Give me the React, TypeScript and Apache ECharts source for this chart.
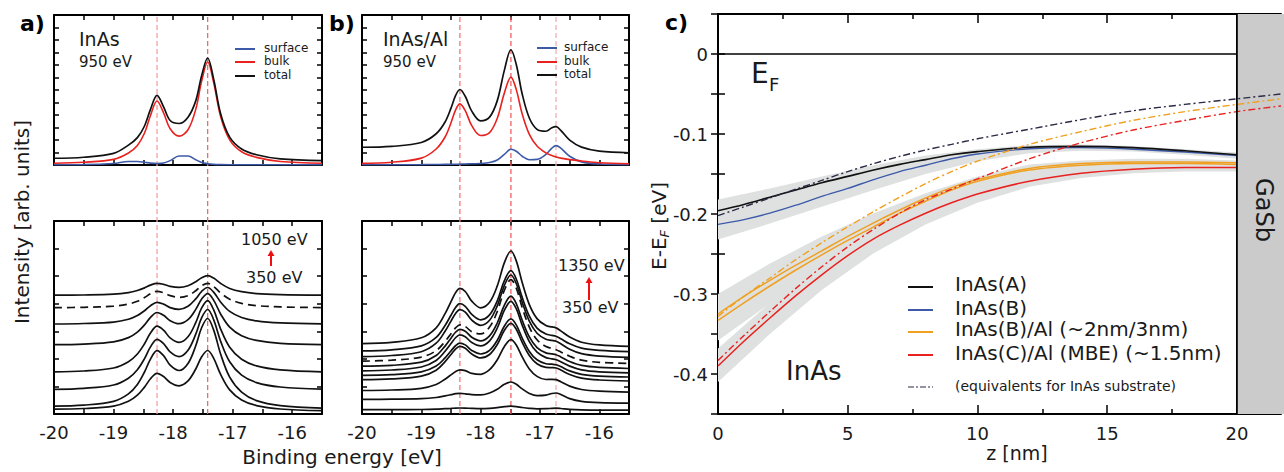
import React, { useEffect, useRef } from 'react';
import * as echarts from 'echarts';

const FONT = "'DejaVu Sans', Verdana, sans-serif";

// ---------------- panel a (InAs) ----------------
const energyGridA = [-20, -19.5, -19, -18.75, -18.6, -18.48, -18.38, -18.27, -18.16, -18.05, -17.9, -17.75, -17.62, -17.52, -17.42, -17.32, -17.2, -17.05, -16.85, -16.6, -16.2, -15.5];
const aTopSurface = [0.02, 0.03, 0.12, 0.28, 0.28, 0.22, 0.15, 0.12, 0.16, 0.35, 0.72, 0.72, 0.42, 0.2, 0.1, 0.05, 0.03, 0.02, 0.02, 0.02, 0.02, 0.02];
const aTopBulk = [0.14, 0.22, 0.45, 0.96, 1.56, 2.56, 3.96, 5.12, 4.17, 2.9, 2.31, 2.82, 4.45, 6.73, 8.24, 6.62, 3.83, 2.01, 1.06, 0.61, 0.28, 0.14];
const aTopTotal = [0.54, 0.62, 0.93, 1.59, 2.19, 3.12, 4.45, 5.57, 4.65, 3.56, 3.32, 3.82, 5.13, 7.17, 8.56, 6.88, 4.06, 2.23, 1.28, 0.82, 0.49, 0.35];

// photon-energy series (top = 1050 eV ... bottom = 350 eV)
const aStack1 = [118.8, 119.0, 119.8, 121.4, 123.5, 126.1, 128.9, 130.7, 129.7, 127.7, 126.7, 128.3, 132.3, 136.3, 138.4, 135.9, 130.5, 125.5, 122.3, 120.4, 119.4, 118.8];
const aStack2 = [106.4, 106.7, 107.8, 110.0, 112.7, 116.4, 120.2, 122.7, 121.2, 118.4, 116.7, 118.4, 123.2, 128.2, 130.6, 127.5, 120.9, 114.8, 110.7, 108.4, 107.1, 106.4];
const aStack3 = [90.0, 90.5, 91.9, 94.8, 98.5, 103.3, 108.3, 111.7, 109.9, 106.4, 104.6, 107.7, 115.1, 122.7, 126.5, 121.9, 111.8, 102.6, 96.5, 93.1, 91.1, 90.1];
const aStack4 = [69.3, 69.9, 72.1, 76.4, 81.9, 89.1, 96.6, 101.5, 98.7, 93.3, 90.3, 94.3, 104.6, 115.1, 120.4, 113.9, 99.8, 86.9, 78.3, 73.6, 70.7, 69.4];
const aStack5 = [42.1, 43.0, 46.0, 52.2, 60.0, 70.2, 80.9, 87.9, 83.8, 76.1, 71.6, 77.2, 91.4, 106.1, 113.4, 104.3, 84.7, 66.7, 54.7, 48.1, 44.1, 42.2];
const aStack6 = [24.7, 25.7, 29.0, 35.8, 44.3, 55.4, 67.1, 74.7, 70.4, 62.1, 57.4, 63.8, 79.8, 96.3, 104.5, 94.4, 72.4, 52.2, 38.8, 31.4, 27.0, 24.9];
const aStack7 = [7.9, 8.9, 12.6, 20.1, 29.5, 42.0, 54.9, 63.4, 58.4, 48.9, 43.5, 50.5, 68.2, 86.5, 95.5, 84.1, 59.5, 36.9, 21.9, 13.4, 8.4, 5.9];
const aStack8 = [4.9, 5.5, 7.9, 12.7, 18.8, 26.9, 35.2, 40.7, 37.5, 31.6, 28.2, 33.1, 45.0, 57.3, 63.5, 55.8, 39.3, 24.1, 14.0, 8.4, 5.0, 3.3];
const aStacks = [aStack1, aStack2, aStack3, aStack4, aStack5, aStack6, aStack7, aStack8];
const aStackDashed = 1;
const aPeakPositions = [-18.27, -17.42];

// ---------------- panel b (InAs/Al) ----------------
const energyGridB = [-20, -19.5, -19, -18.75, -18.6, -18.5, -18.42, -18.35, -18.26, -18.15, -18.0, -17.85, -17.72, -17.6, -17.49, -17.4, -17.3, -17.18, -17.05, -16.9, -16.8, -16.73, -16.65, -16.5, -16.3, -16.0, -15.5];
const bTopSurface = [0.02, 0.02, 0.03, 0.04, 0.05, 0.05, 0.06, 0.07, 0.08, 0.1, 0.12, 0.2, 0.4, 0.85, 1.26, 1.1, 0.7, 0.42, 0.45, 0.85, 1.35, 1.55, 1.35, 0.7, 0.25, 0.08, 0.03];
const bTopBulk = [0.13, 0.22, 0.55, 1.28, 2.24, 3.38, 4.43, 4.89, 4.35, 3.15, 2.36, 2.59, 3.74, 5.77, 7.03, 6.03, 4.08, 2.45, 1.52, 0.97, 0.76, 0.65, 0.55, 0.43, 0.32, 0.18, 0.1];
const bTopTotal = [1.42, 1.49, 1.8, 2.5, 3.44, 4.55, 5.59, 6.04, 5.5, 4.31, 3.53, 3.83, 5.15, 7.59, 9.22, 8.04, 5.68, 3.76, 2.85, 2.7, 2.98, 3.07, 2.77, 1.99, 1.43, 1.11, 0.98];

const bStack1 = [70.3, 71.6, 76.2, 86.2, 100.3, 112.3, 121.6, 125.7, 122.5, 112.8, 106.2, 111.7, 128.1, 151.4, 163.0, 153.1, 131.4, 109.4, 95.4, 88.4, 87.1, 86.1, 83.1, 77.0, 71.8, 69.1, 67.6];
const bStack2 = [63.1, 64.2, 68.1, 76.6, 88.5, 98.8, 106.8, 110.3, 107.7, 99.6, 94.2, 99.1, 113.2, 133.4, 143.4, 135.0, 116.6, 97.9, 85.9, 79.9, 78.7, 77.8, 75.3, 70.2, 65.9, 63.6, 62.4];
const bStack3 = [57.4, 58.5, 62.3, 70.8, 82.7, 92.9, 100.8, 104.3, 101.8, 93.9, 88.7, 93.8, 108.2, 128.7, 139.0, 130.5, 111.8, 92.8, 80.7, 74.7, 73.6, 72.7, 70.2, 64.8, 60.3, 57.9, 56.7];
const bStack4 = [52.9, 53.8, 56.9, 63.4, 72.6, 80.3, 86.3, 89.1, 87.5, 82.3, 80.1, 86.9, 102.5, 123.8, 134.4, 125.7, 106.4, 86.9, 74.2, 67.4, 65.6, 64.3, 62.1, 57.8, 53.8, 51.7, 50.6];
const bStack5 = [47.9, 48.7, 51.8, 58.5, 67.9, 75.8, 82.0, 84.7, 82.8, 76.7, 73.1, 78.1, 91.0, 108.9, 117.8, 110.3, 93.7, 77.1, 66.4, 61.1, 60.1, 59.3, 57.1, 52.5, 48.6, 46.6, 45.5];
const bStack6 = [43.1, 44.0, 47.0, 53.5, 62.7, 70.4, 76.5, 79.2, 77.3, 71.5, 68.1, 73.2, 86.0, 103.8, 112.7, 105.3, 88.9, 72.4, 61.8, 56.4, 55.2, 54.4, 52.3, 47.9, 44.2, 42.2, 41.2];
const bStack7 = [38.7, 39.4, 42.1, 47.9, 56.1, 63.1, 68.5, 70.9, 69.1, 63.6, 60.0, 63.6, 73.7, 88.0, 95.1, 89.1, 75.9, 62.6, 54.2, 50.3, 49.8, 49.3, 47.4, 43.1, 39.7, 37.9, 37.0];
const bStack8 = [34.3, 35.1, 37.8, 43.8, 52.3, 59.5, 65.2, 67.6, 65.7, 60.0, 56.1, 59.5, 69.5, 83.7, 90.7, 84.8, 71.7, 58.6, 50.3, 46.6, 46.4, 46.0, 44.0, 39.5, 35.8, 34.0, 33.0];
const bStack9 = [23.5, 24.0, 25.7, 29.5, 34.8, 39.1, 42.6, 44.2, 43.4, 40.6, 39.7, 44.3, 54.2, 67.6, 74.3, 69.0, 57.1, 45.1, 37.6, 34.5, 34.6, 34.3, 32.3, 27.9, 24.5, 22.8, 21.9];
const bStack10 = [14.6, 14.8, 15.3, 16.5, 18.1, 19.3, 20.3, 20.6, 20.2, 19.3, 19.1, 21.0, 24.7, 29.7, 32.0, 29.8, 25.1, 20.6, 18.3, 18.8, 20.5, 21.0, 19.5, 15.4, 12.7, 11.4, 10.8];
const bStack11 = [4.4, 4.4, 4.5, 4.8, 5.3, 5.6, 5.9, 6.0, 5.9, 5.6, 5.4, 5.7, 6.4, 7.3, 7.8, 7.4, 6.5, 5.7, 5.2, 5.3, 5.7, 5.8, 5.5, 4.7, 4.2, 3.9, 3.8];
const bStacks = [bStack1, bStack2, bStack3, bStack4, bStack5, bStack6, bStack7, bStack8, bStack9, bStack10, bStack11];
const bStackDashed = 3;
const bPeakPositions = [-18.35, -17.49, -16.73];

const energyTickLabels = [-20, -19, -18, -17, -16];

// ---------------- panel c (band bending) ----------------
const zSolid = [0, 1, 2, 3, 4, 5, 6, 7, 8, 9, 10, 12, 14, 16, 18, 20];
const inAsA = [-0.196, -0.188, -0.179, -0.17, -0.161, -0.153, -0.145, -0.138, -0.132, -0.126, -0.122, -0.1165, -0.1155, -0.117, -0.121, -0.126];
const inAsB = [-0.213, -0.207, -0.199, -0.189, -0.178, -0.168, -0.157, -0.147, -0.139, -0.131, -0.125, -0.1185, -0.117, -0.119, -0.1225, -0.127];
const inAsBAl2 = [-0.325, -0.303, -0.283, -0.264, -0.246, -0.228, -0.211, -0.195, -0.18, -0.167, -0.157, -0.143, -0.137, -0.135, -0.135, -0.136];
const inAsBAl3 = [-0.333, -0.311, -0.29, -0.27, -0.251, -0.233, -0.216, -0.199, -0.184, -0.17, -0.159, -0.145, -0.139, -0.137, -0.137, -0.138];
const inAsCAl = [-0.39, -0.359, -0.33, -0.302, -0.276, -0.252, -0.231, -0.214, -0.199, -0.186, -0.175, -0.159, -0.149, -0.144, -0.142, -0.142];

const zSubstrate = [0, 1, 2, 3, 4, 5, 6, 7, 8, 9, 10, 12, 14, 16, 18, 20, 21.7];
const subA = [-0.202, -0.191, -0.18, -0.169, -0.158, -0.147, -0.137, -0.128, -0.12, -0.113, -0.106, -0.094, -0.082, -0.071, -0.063, -0.056, -0.05];
const subBAl = [-0.328, -0.303, -0.28, -0.257, -0.236, -0.216, -0.197, -0.179, -0.162, -0.147, -0.134, -0.113, -0.097, -0.083, -0.072, -0.063, -0.056];
const subCAl = [-0.383, -0.352, -0.322, -0.293, -0.266, -0.241, -0.219, -0.199, -0.182, -0.169, -0.156, -0.131, -0.111, -0.095, -0.083, -0.072, -0.065];

const zBand = [0, 2, 4, 6, 8, 10, 12, 14, 16, 18, 20];
const bandABLow = [-0.232, -0.212, -0.191, -0.17, -0.15, -0.134, -0.124, -0.121, -0.122, -0.126, -0.131];
const bandABHigh = [-0.182, -0.168, -0.153, -0.139, -0.127, -0.119, -0.114, -0.113, -0.115, -0.119, -0.123];
const bandAlLow = [-0.358, -0.312, -0.272, -0.234, -0.201, -0.176, -0.155, -0.144, -0.14, -0.139, -0.14];
const bandAlHigh = [-0.3, -0.262, -0.228, -0.199, -0.174, -0.153, -0.138, -0.133, -0.131, -0.131, -0.133];
const bandCLow = [-0.41, -0.35, -0.295, -0.249, -0.213, -0.186, -0.166, -0.155, -0.149, -0.147, -0.147];
const bandCHigh = [-0.368, -0.311, -0.258, -0.215, -0.186, -0.165, -0.152, -0.143, -0.139, -0.137, -0.137];

const zTickLabels = [0, 5, 10, 15, 20];
const eTickLabels = [0, -0.1, -0.2, -0.3, -0.4];
const interfaceZ = 20;
const fermiLevel = 0;
const zMax = 21.7;
const eMin = -0.45;
const eMax = 0.05;

// ---------------- colours ----------------
const BLACK = '#111111';
const RED = '#e8221f';
const BLUE = '#3d5aa9';
const ORANGE = '#f0a020';
const NAVY = '#2b2b45';
const BAND = '#dfe1e1';

const axisLine = { show: true, onZero: false, lineStyle: { color: '#000', width: 2 } };
const tickStyle = { color: '#000', width: 1.5 };

function energyAxis(gridIndex: number, position: string, labels: boolean) {
  return {
    type: 'value', gridIndex, position, min: -20, max: -15.5, interval: 0.5,
    axisLine,
    axisTick: { show: true, inside: true, length: 5, lineStyle: tickStyle },
    axisLabel: {
      show: labels, margin: 9, fontSize: 18, color: '#1a1a1a', fontFamily: FONT,
      formatter: (v: number) => (energyTickLabels.some((t) => Math.abs(t - v) < 1e-6) ? String(v) : ''),
    },
    splitLine: { show: false },
  };
}
function intensityAxis(gridIndex: number, position: string, max: number, interval: number) {
  return {
    type: 'value', gridIndex, position, min: 0, max, interval,
    axisLine,
    axisTick: { show: true, inside: true, length: 5, lineStyle: tickStyle },
    axisLabel: { show: false },
    splitLine: { show: false },
  };
}
function zAxis(position: string, labels: boolean) {
  return {
    type: 'value', gridIndex: 4, position, min: 0, max: zMax, interval: 5,
    axisLine,
    axisTick: { show: true, inside: true, length: 9, lineStyle: tickStyle },
    minorTick: { show: true, splitNumber: 2, length: 5, lineStyle: tickStyle },
    axisLabel: {
      show: labels, margin: 10, fontSize: 18, color: '#1a1a1a', fontFamily: FONT,
      formatter: (v: number) => (zTickLabels.some((t) => Math.abs(t - v) < 1e-6) ? String(v) : ''),
    },
    splitLine: { show: false },
    minorSplitLine: { show: false },
  };
}
function energyCAxis(position: string, labels: boolean) {
  return {
    type: 'value', gridIndex: 4, position, min: eMin, max: eMax, interval: 0.05,
    axisLine: labels ? axisLine : { show: false },
    axisTick: { show: true, inside: true, length: 7, lineStyle: tickStyle },
    axisLabel: {
      show: labels, margin: 10, fontSize: 18, color: '#1a1a1a', fontFamily: FONT,
      formatter: (v: number) => {
        const t = eTickLabels.find((e) => Math.abs(e - v) < 1e-6);
        if (t === undefined) return '';
        return t === 0 ? '0' : t.toFixed(1);
      },
    },
    splitLine: { show: false },
  };
}

function line(xi: number, xs: number[], ys: number[], color: string, width: number, dash: any = 'solid', z = 3, smooth: any = 0.35) {
  return {
    type: 'line', xAxisIndex: xi, yAxisIndex: xi,
    data: xs.map((x, i) => [x, ys[i]]),
    symbol: 'none', smooth, silent: true, z,
    lineStyle: { color, width, type: dash },
    emphasis: { disabled: true },
  };
}

function vline(xi: number, x: number, color: string) {
  return {
    type: 'line', xAxisIndex: xi, yAxisIndex: xi,
    data: [[x, 0], [x, 1]], symbol: 'none', silent: true, z: 1,
    lineStyle: { color, width: 1.3, type: [5, 3] },
    emphasis: { disabled: true },
  };
}

function txt(text: string, x: number, y: number, size: number, o: any = {}) {
  const align = o.align ?? 'left';
  return {
    type: 'text', x, y, rotation: o.rotation ?? 0, silent: true, z: 100,
    style: {
      text, fill: o.color ?? '#1a1a1a', fontSize: size, fontFamily: FONT,
      fontWeight: o.weight ?? 'normal', fontStyle: o.style ?? 'normal',
      textAlign: align, align, textVerticalAlign: 'middle', verticalAlign: 'middle',
      rich: o.rich,
    },
  };
}
function gline(x1: number, y1: number, x2: number, y2: number, stroke: string, lineWidth: number, lineDash?: number[]) {
  return { type: 'line', silent: true, z: 100, shape: { x1, y1, x2, y2 }, style: { stroke, lineWidth, lineDash } };
}
function arrow(x: number, yBottom: number, yTip: number) {
  return [
    gline(x, yBottom, x, yTip + 5, '#ee1111', 2),
    { type: 'polygon', silent: true, z: 100, shape: { points: [[x - 3.5, yTip + 6], [x + 3.5, yTip + 6], [x, yTip]] }, style: { fill: '#ee1111' } },
  ];
}

function buildOption() {
  const series: any[] = [];
  const aMarkColors = ['#f4a0a0', '#f06a6a'];
  const bMarkColors = ['#f07a7a', '#f06060', '#f5b0b0'];
  aPeakPositions.forEach((p, i) => series.push(vline(10, p, aMarkColors[i])));
  bPeakPositions.forEach((p, i) => series.push(vline(11, p, bMarkColors[i])));

  series.push(line(0, energyGridA, aTopSurface, BLUE, 1.6));
  series.push(line(0, energyGridA, aTopBulk, RED, 1.6));
  series.push(line(0, energyGridA, aTopTotal, BLACK, 1.7));
  aStacks.forEach((s, i) => series.push(line(2, energyGridA, s, BLACK, 1.7, i === aStackDashed ? [8, 5] : 'solid')));
  series.push(line(4, energyGridB, bTopSurface, BLUE, 1.6));
  series.push(line(4, energyGridB, bTopBulk, RED, 1.6));
  series.push(line(4, energyGridB, bTopTotal, BLACK, 1.7));
  bStacks.forEach((s, i) => series.push(line(6, energyGridB, s, BLACK, 1.7, i === bStackDashed ? [8, 5] : 'solid')));

  series.push({
    type: 'custom', xAxisIndex: 8, yAxisIndex: 8, silent: true, z: 1,
    data: [[interfaceZ, fermiLevel]],
    renderItem: (_p: any, api: any) => {
      const p0 = api.coord([interfaceZ, eMax]);
      const p1 = api.coord([zMax, eMin]);
      return { type: 'rect', shape: { x: p0[0], y: p0[1], width: p1[0] - p0[0] + 4, height: p1[1] - p0[1] }, style: { fill: '#cbcbcb' } };
    },
  });
  const bands = [
    [bandABLow, bandABHigh],
    [bandAlLow, bandAlHigh],
    [bandCLow, bandCHigh],
  ];
  series.push({
    type: 'custom', xAxisIndex: 8, yAxisIndex: 8, silent: true, z: 2,
    data: [[0, 0]],
    renderItem: (_p: any, api: any) => ({
      type: 'group',
      children: bands.map(([lo, hi]) => {
        const pts: number[][] = [];
        zBand.forEach((z, i) => pts.push(api.coord([z, hi[i]])));
        for (let i = zBand.length - 1; i >= 0; i--) pts.push(api.coord([zBand[i], lo[i]]));
        return { type: 'polygon', shape: { points: pts }, style: { fill: BAND } };
      }),
    }),
  });
  series.push(line(8, [0, interfaceZ], [fermiLevel, fermiLevel], '#000', 1.6, 'solid', 5, false));
  series.push(line(8, [interfaceZ, interfaceZ], [eMin, eMax], '#000', 1.8, 'solid', 5, false));
  series.push(line(8, zSolid, inAsCAl, RED, 1.5, 'solid', 3, 0.3));
  series.push(line(8, zSolid, inAsBAl3, ORANGE, 1.5, 'solid', 3, 0.3));
  series.push(line(8, zSolid, inAsBAl2, ORANGE, 1.5, 'solid', 3, 0.3));
  series.push(line(8, zSolid, inAsB, BLUE, 1.4, 'solid', 3, 0.3));
  series.push(line(8, zSolid, inAsA, BLACK, 1.6, 'solid', 3, 0.3));
  const dd = [7, 3, 2, 3];
  series.push(line(8, zSubstrate, subCAl, RED, 1.4, dd, 4, 0.3));
  series.push(line(8, zSubstrate, subBAl, ORANGE, 1.4, dd, 4, 0.3));
  series.push(line(8, zSubstrate, subA, NAVY, 1.4, dd, 4, 0.3));

  const graphics: any[] = [
    txt('a)', 20, 23, 22, { weight: 'bold', color: '#000' }),
    txt('b)', 329, 23, 22, { weight: 'bold', color: '#000' }),
    txt('c)', 665, 22, 22, { weight: 'bold', color: '#000' }),
    txt('InAs', 79, 39, 19),
    txt('950 eV', 79, 62, 15),
    gline(235, 49, 255, 49, BLUE, 2), txt('surface', 264, 48, 12),
    gline(235, 62, 255, 62, RED, 2), txt('bulk', 264, 61, 12),
    gline(235, 76, 255, 76, BLACK, 2), txt('total', 264, 75, 12),
    txt('InAs/Al', 383, 39, 19),
    txt('950 eV', 383, 62, 15),
    gline(537, 48, 557, 48, BLUE, 2), txt('surface', 564, 47, 12),
    gline(537, 62, 557, 62, RED, 2), txt('bulk', 564, 61, 12),
    gline(537, 75, 557, 75, BLACK, 2), txt('total', 564, 74, 12),
    txt('1050 eV', 241, 239, 16),
    ...arrow(271, 266, 250),
    txt('350 eV', 246, 277, 16),
    txt('1350 eV', 558, 265, 16),
    ...arrow(589, 300, 277),
    txt('350 eV', 562, 307, 16),
    txt('Intensity [arb. units]', 22, 222, 20, { rotation: Math.PI / 2, align: 'center' }),
    txt('Binding energy [eV]', 342, 457, 20, { align: 'center' }),
    txt('z [nm]', 1017, 453, 19, { align: 'center' }),
    txt('{n|E-E}{s|F}{n| [eV]}', 659, 226, 20, {
      rotation: Math.PI / 2, align: 'center',
      rich: {
        n: { fontSize: 20, fontFamily: FONT, fill: '#1a1a1a', lineHeight: 24 },
        s: { fontSize: 13, fontFamily: FONT, fontStyle: 'italic', fill: '#1a1a1a', verticalAlign: 'bottom', lineHeight: 16 },
      },
    }),
    txt('E', 751, 73, 28),
    txt('F', 769, 84, 18),
    txt('InAs', 786, 371, 26),
    txt('GaSb', 1264, 210, 24, { rotation: -Math.PI / 2, align: 'center' }),
    gline(908, 287, 933, 287, BLACK, 2), txt('InAs(A)', 955, 284, 20),
    gline(908, 310, 933, 310, BLUE, 2), txt('InAs(B)', 955, 307.5, 20),
    gline(908, 332, 933, 332, ORANGE, 2), txt('InAs(B)/Al (~2nm/3nm)', 955, 329, 20),
    gline(908, 355, 933, 355, RED, 2), txt('InAs(C)/Al (MBE) (~1.5nm)', 955, 352.5, 20),
    gline(908, 387, 933, 387, NAVY, 1.2, [6, 2, 2, 2]), txt('(equivalents for InAs substrate)', 955, 386, 14),
  ];

  return {
    animation: false,
    backgroundColor: '#ffffff',
    textStyle: { fontFamily: FONT },
    grid: [
      { left: 54, top: 15, width: 268, height: 150 },
      { left: 54, top: 221, width: 268, height: 193 },
      { left: 362, top: 15, width: 267, height: 150 },
      { left: 362, top: 221, width: 267, height: 193 },
      { left: 718, top: 14, width: 566, height: 400 },
      { left: 54, top: 15, width: 268, height: 399 },
      { left: 362, top: 15, width: 267, height: 399 },
    ],
    xAxis: [
      energyAxis(0, 'bottom', false), energyAxis(0, 'top', false),
      energyAxis(1, 'bottom', true), energyAxis(1, 'top', false),
      energyAxis(2, 'bottom', false), energyAxis(2, 'top', false),
      energyAxis(3, 'bottom', true), energyAxis(3, 'top', false),
      zAxis('bottom', true), zAxis('top', false),
      { type: 'value', gridIndex: 5, min: -20, max: -15.5, show: false },
      { type: 'value', gridIndex: 6, min: -20, max: -15.5, show: false },
    ],
    yAxis: [
      intensityAxis(0, 'left', 12, 1), intensityAxis(0, 'right', 12, 1),
      intensityAxis(1, 'left', 193, 193 / 7), intensityAxis(1, 'right', 193, 193 / 7),
      intensityAxis(2, 'left', 12, 1), intensityAxis(2, 'right', 12, 1),
      intensityAxis(3, 'left', 193, 193 / 7), intensityAxis(3, 'right', 193, 193 / 7),
      energyCAxis('left', true), energyCAxis('right', false),
      { type: 'value', gridIndex: 5, min: 0, max: 1, show: false },
      { type: 'value', gridIndex: 6, min: 0, max: 1, show: false },
    ],
    series,
    graphic: { elements: graphics },
  };
}

export default function App() {
  const ref = useRef<HTMLDivElement>(null);
  useEffect(() => {
    if (!ref.current) return;
    const chart = echarts.init(ref.current, null, { renderer: 'svg' });
    chart.setOption(buildOption() as any);
    return () => chart.dispose();
  }, []);
  return (
    <div
      ref={ref}
      style={{ position: 'fixed', left: 0, top: 0, width: 1284, height: 472, background: '#fff' }}
    />
  );
}
